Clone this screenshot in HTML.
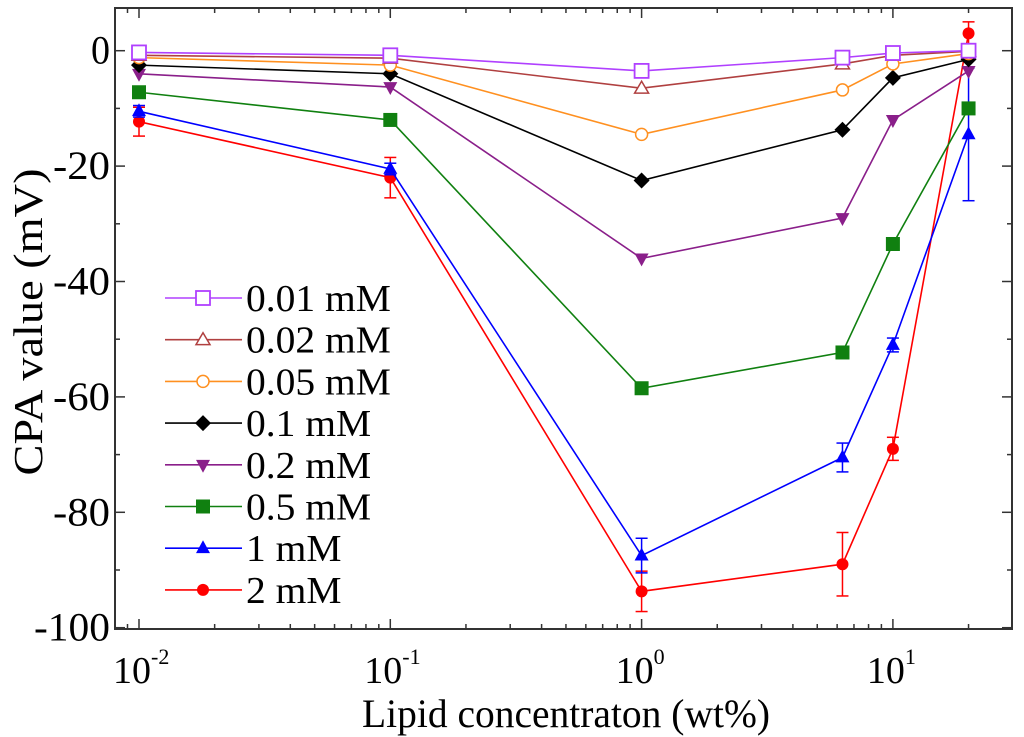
<!DOCTYPE html>
<html><head><meta charset="utf-8"><style>
html,body{margin:0;padding:0;background:#fff;}
svg{display:block;font-family:"Liberation Serif",serif;}
</style></head><body>
<svg id="chart" width="1024" height="737" viewBox="0 0 1024 737"></svg>
<script>
const xValues=[0.01,0.1,1,6.3,10,20];
const seriesNames=["0.01 mM","0.02 mM","0.05 mM","0.1 mM","0.2 mM","0.5 mM","1 mM","2 mM"];
const s001=[-0.3,-0.8,-3.5,-1.2,-0.4,0];
const s002=[-0.8,-1.3,-6.5,-2.3,-0.8,-0.1];
const s005=[-1.2,-2.5,-14.5,-6.8,-2.3,-0.5];
const s01=[-2.5,-4,-22.5,-13.7,-4.7,-1.5];
const s02=[-4,-6.3,-36,-29,-12,-3.5];
const s05=[-7.2,-12,-58.5,-52.3,-33.5,-10];
const s1=[-10.5,-20.5,-87.5,-70.5,-51,-14.5];
const s2=[-12.3,-22,-93.7,-89,-69,3];
const err1=[1,1,3,2.5,1.2,11.5];
const err2=[2.5,3.5,3.5,5.5,2,2];
const yTicks=[0,-20,-40,-60,-80,-100];
const xTickExps=[-2,-1,0,1];

const NS="http://www.w3.org/2000/svg";
const svg=document.getElementById('chart');
const L=115,R=1012,T=8,B=629;
const X0=139,DEC=251.3;
function xs(v){return X0+(Math.log10(v)+2)*DEC;}
function ys(v){return 50.7-v*5.77;}
function el(t,a,p){const e=document.createElementNS(NS,t);for(const k in a)e.setAttribute(k,a[k]);(p||svg).appendChild(e);return e;}

const frame=el('rect',{x:L,y:T,width:R-L,height:B-T,fill:'none',stroke:'#333','stroke-width':2});



for(let v=-100;v<=0;v+=10){
  const y=ys(v),len=(v%20===0)?10:5;
  el('line',{x1:L,x2:L+len,y1:y,y2:y,stroke:'#333','stroke-width':1.5});
  el('line',{x1:R,x2:R-len,y1:y,y2:y,stroke:'#333','stroke-width':1.5});
}
yTicks.forEach(v=>{
  const t=el('text',{x:110,y:ys(v)+13,'text-anchor':'end','font-size':40,'textLength':(String(v).length*19),'lengthAdjust':'spacingAndGlyphs',fill:'#000'});
  t.textContent=String(v);
  
  
});
for(let e=-3;e<=1;e++){
  for(let m=1;m<10;m++){
    const v=m*Math.pow(10,e),x=xs(v);
    if(x<L+1||x>R-1)continue;
    const len=m===1?10:5;
    el('line',{x1:x,x2:x,y1:B,y2:B-len,stroke:'#333','stroke-width':1.5});
    el('line',{x1:x,x2:x,y1:T,y2:T+len,stroke:'#333','stroke-width':1.5});
  }
}
xTickExps.forEach(e=>{
  const x=xs(Math.pow(10,e));
  const t=el('text',{x:x-7,y:683,'text-anchor':'middle','font-size':38,fill:'#000'});
  t.textContent='10';
  
  
  const s=el('text',{x:x+12,y:664,'font-size':22,fill:'#000'});
  s.textContent=String(e);
});
const xl=el('text',{x:566,y:727,'text-anchor':'middle','font-size':40,'textLength':408,'lengthAdjust':'spacingAndGlyphs',fill:'#000'});
xl.textContent='Lipid concentraton (wt%)';


const yl=el('text',{x:0,y:0,'text-anchor':'middle','font-size':41,'textLength':307,'lengthAdjust':'spacingAndGlyphs',fill:'#000',transform:'translate(42,322) rotate(-90)'});
yl.textContent='CPA value (mV)';



const data=[s001,s002,s005,s01,s02,s05,s1,s2];
const colors=['#b040ff','#b04040','#ff9020','#000','#8a1f8a','#108010','#0000ff','#ff0000'];
const markers=['sq-open','tri-open','circ-open','diamond','tri-down','sq','tri','circ'];
const errs=[null,null,null,null,null,null,err1,err2];

function marker(type,x,y,c,g){
  const s=7;
  switch(type){
    case 'sq-open':return el('rect',{x:x-s,y:y-s,width:2*s,height:2*s,fill:'#fff',stroke:c,'stroke-width':1.8},g);
    case 'sq':return el('rect',{x:x-s,y:y-s,width:2*s,height:2*s,fill:c},g);
    case 'tri-open':return el('polygon',{points:`${x},${y-s} ${x-s},${y+s*0.7} ${x+s},${y+s*0.7}`,fill:'#fff',stroke:c,'stroke-width':1.5},g);
    case 'tri':return el('polygon',{points:`${x},${y-s-1} ${x-s},${y+s*0.7} ${x+s},${y+s*0.7}`,fill:c},g);
    case 'tri-down':return el('polygon',{points:`${x},${y+s+1} ${x-s},${y-s*0.7} ${x+s},${y-s*0.7}`,fill:c},g);
    case 'circ-open':return el('circle',{cx:x,cy:y,r:6,fill:'#fff',stroke:c,'stroke-width':1.5},g);
    case 'circ':return el('circle',{cx:x,cy:y,r:6,fill:c},g);
    case 'diamond':return el('polygon',{points:`${x},${y-s-1} ${x+s+1},${y} ${x},${y+s+1} ${x-s-1},${y}`,fill:c},g);
  }
}

for(let i=data.length-1;i>=0;i--){
  const g=el('g',{});
  
  
  const vals=data[i],c=colors[i];
  el('polyline',{points:vals.map((v,j)=>xs(xValues[j])+','+ys(v)).join(' '),fill:'none',stroke:c,'stroke-width':1.6},g);
  if(errs[i]){
    vals.forEach((v,j)=>{
      const x=xs(xValues[j]),e=errs[i][j];
      el('line',{x1:x,x2:x,y1:ys(v-e),y2:ys(v+e),stroke:c,'stroke-width':1.5},g);
      el('line',{x1:x-6,x2:x+6,y1:ys(v-e),y2:ys(v-e),stroke:c,'stroke-width':1.5},g);
      el('line',{x1:x-6,x2:x+6,y1:ys(v+e),y2:ys(v+e),stroke:c,'stroke-width':1.5},g);
    });
  }
  vals.forEach((v,j)=>{
    const m=marker(markers[i],xs(xValues[j]),ys(v),c,g);
    
    
  });
}

const lg=el('g',{});


seriesNames.forEach((n,i)=>{
  const y=298+i*41.7,g=el('g',{},lg);
  
  
  el('line',{x1:165,x2:242,y1:y,y2:y,stroke:colors[i],'stroke-width':1.6},g);
  marker(markers[i],203,y,colors[i],g);
  const t=el('text',{x:246,y:y+13,'font-size':38,fill:'#000'},g);
  t.textContent=n;
  const w=t.getComputedTextLength();
  t.setAttribute('textLength',(w*1.04).toFixed(1));
  t.setAttribute('lengthAdjust','spacingAndGlyphs');
});
</script>
</body></html>
